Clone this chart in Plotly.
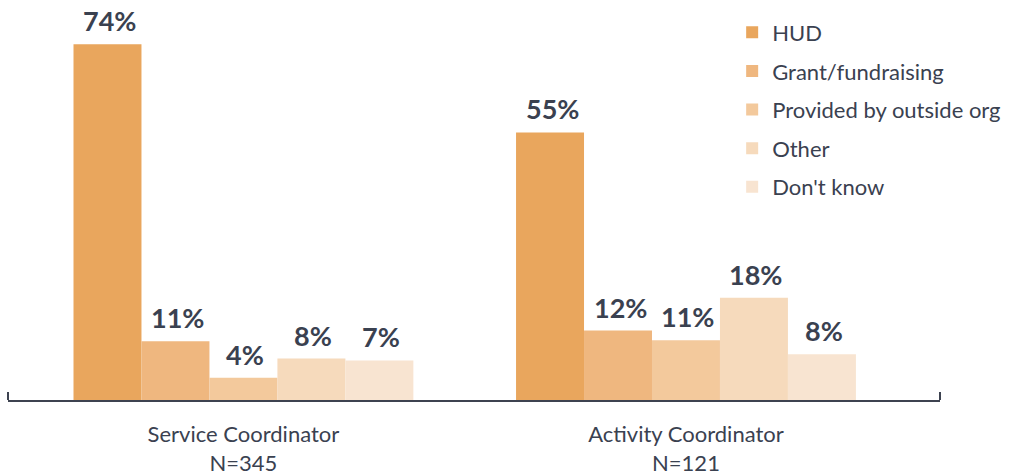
import plotly.graph_objects as go

categories = ["Service Coordinator<br>N=345", "Activity Coordinator<br>N=121"]
series_names = ["HUD", "Grant/fundraising", "Provided by outside org", "Other", "Don't know"]
# bar heights as drawn (percent)
hud = [73.8, 55.5]
grant = [12.2, 14.4]
outside = [4.6, 12.4]
other = [8.6, 21.2]
dont_know = [8.2, 9.5]
# printed labels
hud_lbl = ["74%", "55%"]
grant_lbl = ["11%", "12%"]
outside_lbl = ["4%", "11%"]
other_lbl = ["8%", "18%"]
dont_know_lbl = ["7%", "8%"]

colors = ["#E9A65D", "#EFB77F", "#F3C99C", "#F6DABC", "#F8E4D1"]
series = [hud, grant, outside, other, dont_know]
labels = [hud_lbl, grant_lbl, outside_lbl, other_lbl, dont_know_lbl]

x_pos = [0, 1]
bargap = 0.232
n = len(series)
bw = (1 - bargap) / n

fig = go.Figure()
annotations = []
for i, (name, vals, lbls, col) in enumerate(zip(series_names, series, labels, colors)):
    fig.add_trace(go.Bar(
        x=x_pos, y=vals, name=name, marker=dict(color=col, line=dict(width=0)),
        legendgroup=name, hoverinfo="skip",
    ))
    for xp, v, t in zip(x_pos, vals, lbls):
        annotations.append(dict(
            x=xp + (i - (n - 1) / 2) * bw, y=v, text="<b>" + t + "</b>",
            showarrow=False, yanchor="bottom", yshift=5, xshift=2,
            font=dict(family="Lato", size=27, color="#3A4150"),
        ))

shapes = [
    dict(type="line", xref="paper", yref="paper", x0=0, x1=0, y0=0, y1=8,
         ysizemode="pixel", yanchor=0, line=dict(color="#3D4350", width=2)),
    dict(type="line", xref="paper", yref="paper", x0=1, x1=1, y0=0, y1=8,
         ysizemode="pixel", yanchor=0, line=dict(color="#3D4350", width=2)),
]

fig.update_layout(
    width=1010, height=475,
    margin=dict(l=8, r=70, t=10, b=75, autoexpand=False),
    paper_bgcolor="white", plot_bgcolor="white",
    barmode="group", bargap=bargap, bargroupgap=0,
    font=dict(family="Lato", color="#3A4150"),
    showlegend=True,
    legend=dict(
        x=0.777, y=0.996, xanchor="left", yanchor="top",
        font=dict(family="Lato", size=22, color="#3A4150"),
        tracegroupgap=7, traceorder="grouped",
        bgcolor="rgba(0,0,0,0)",
    ),
    annotations=annotations,
    shapes=shapes,
)
fig.update_xaxes(
    range=[-0.532, 1.574], tickvals=x_pos, ticktext=categories,
    showline=True, linecolor="#3D4350", linewidth=2, ticks="",
    showgrid=False, zeroline=False, ticklabelstandoff=14, automargin=False,
    tickfont=dict(family="Lato", size=22, color="#3A4150"),
)
fig.update_yaxes(range=[0, 80.9], visible=False, showgrid=False, zeroline=False,
                 automargin=False)

fig.write_html("out.html", config={"displayModeBar": False},
               post_script="document.body.style.margin='0px';")
